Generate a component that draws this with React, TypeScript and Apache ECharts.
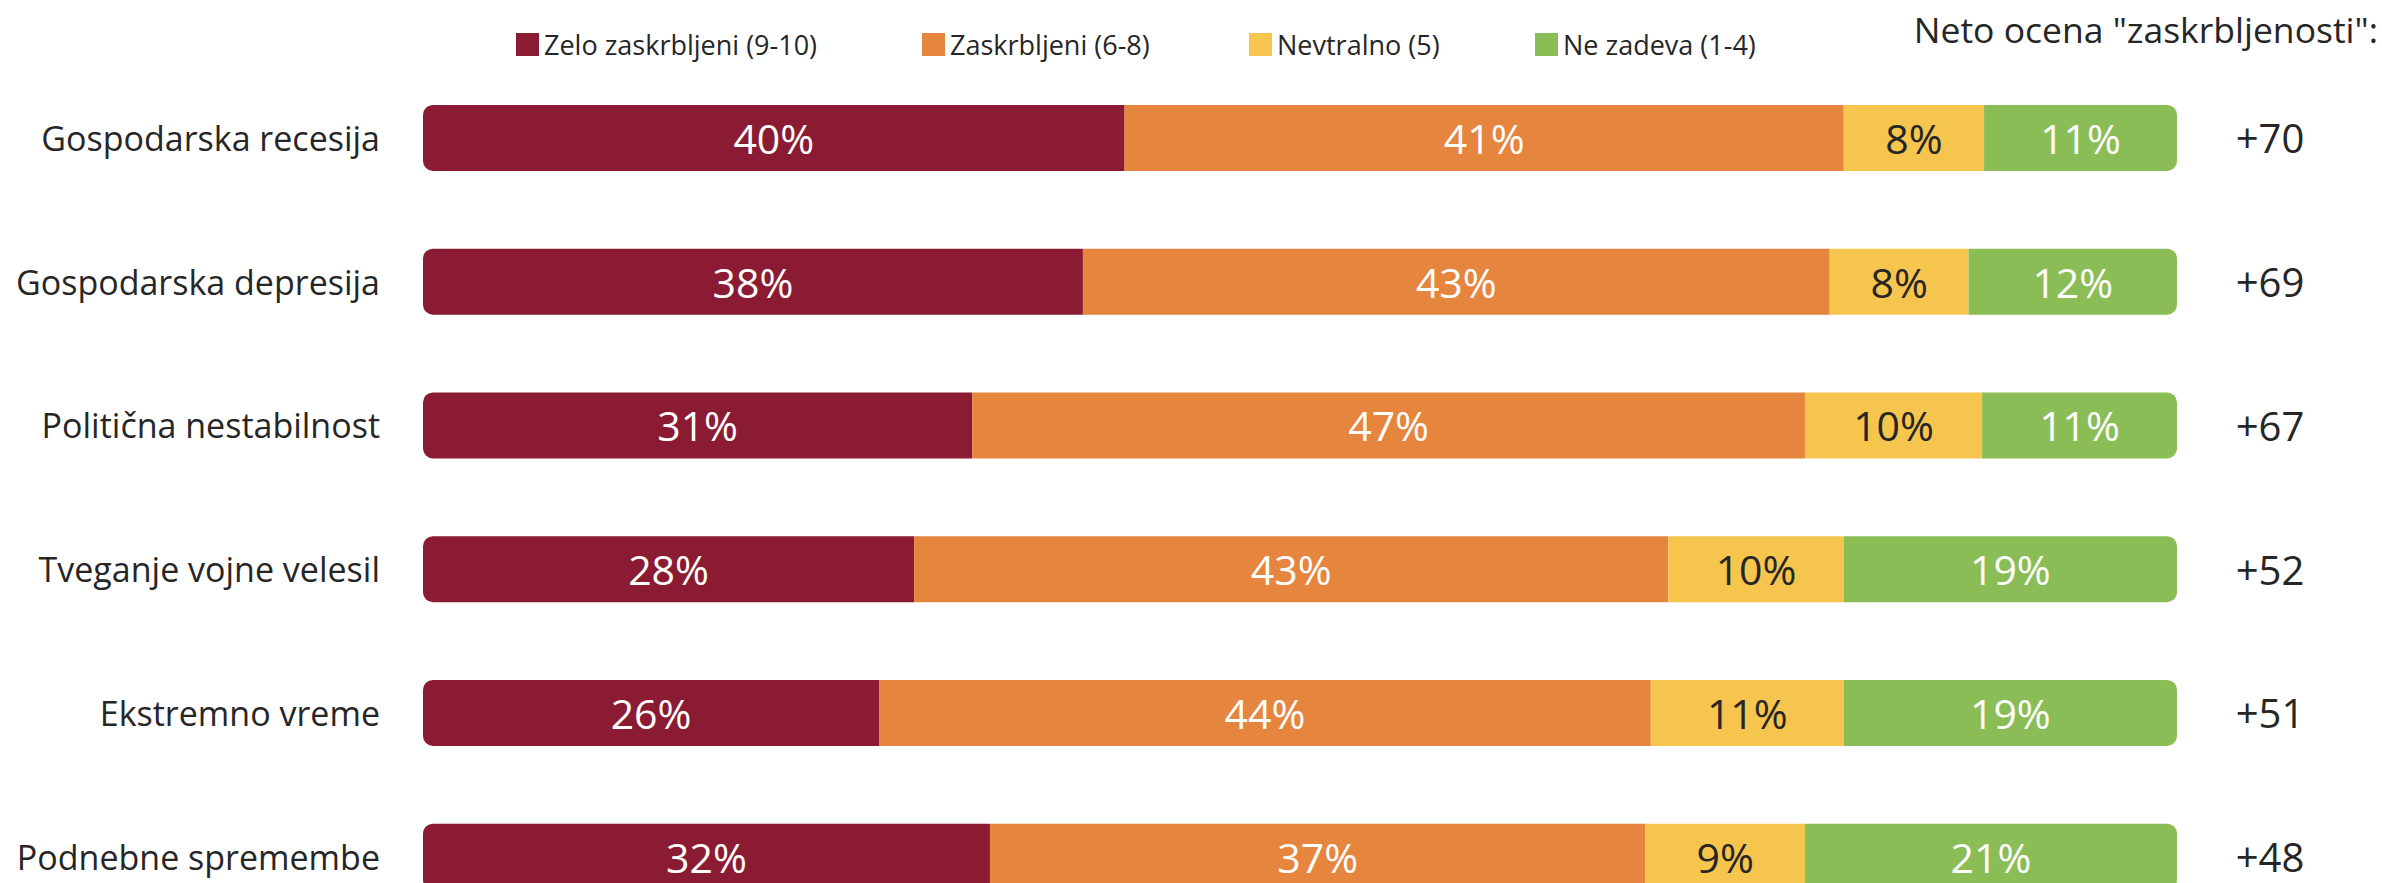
import React, { useEffect, useRef } from "react";
import * as echarts from "echarts";

const categories = [
  "Gospodarska recesija",
  "Gospodarska depresija",
  "Politična nestabilnost",
  "Tveganje vojne velesil",
  "Ekstremno vreme",
  "Podnebne spremembe",
];
const seriesNames = ["Zelo zaskrbljeni (9-10)", "Zaskrbljeni (6-8)", "Nevtralno (5)", "Ne zadeva (1-4)"];
const veryConcerned = [40, 38, 31, 28, 26, 32];
const concerned = [41, 43, 47, 43, 44, 37];
const neutral = [8, 8, 10, 10, 11, 9];
const notConcerned = [11, 12, 11, 19, 19, 21];
const netScores = [70, 69, 67, 52, 51, 48];
const netTitle = 'Neto ocena "zaskrbljenosti":';

const colors = ["#8B1B32", "#E6853D", "#F5C54E", "#8BBD56"];
const labelColors = ["#FFFFFF", "#FFFFFF", "#262626", "#FFFFFF"];
const FONT = "'Open Sans', sans-serif";
const TEXT = "#262626";

export default function App() {
  const ref = useRef<HTMLDivElement>(null);
  useEffect(() => {
    document.body.style.margin = "0";
    const chart = echarts.init(ref.current!, null, { renderer: "svg" });
    const raw = [veryConcerned, concerned, neutral, notConcerned];
    const totals = categories.map((_, i) => raw.reduce((s, arr) => s + arr[i], 0));
    const legendLefts = [516, 922, 1249, 1535];
    const radii = [
      [10, 0, 0, 10],
      [0, 0, 0, 0],
      [0, 0, 0, 0],
      [0, 10, 10, 0],
    ];
    const option: any = {
      animation: false,
      grid: { left: 423, top: 66, width: 1754, height: 862.5 },
      xAxis: { type: "value", min: 0, max: 100, show: false },
      yAxis: [
        {
          type: "category",
          data: categories,
          inverse: true,
          axisLine: { show: false },
          axisTick: { show: false },
          splitLine: { show: false },
          axisLabel: { fontSize: 34, lineHeight: 34, color: TEXT, margin: 43, fontFamily: FONT },
        },
        {
          type: "category",
          position: "right",
          data: netScores.map((v) => (v > 0 ? "+" + v : String(v))),
          inverse: true,
          axisLine: { show: false },
          axisTick: { show: false },
          splitLine: { show: false },
          axisLabel: {
            fontSize: 40,
            lineHeight: 36,
            color: TEXT,
            margin: 93,
            align: "center",
            fontFamily: FONT,
          },
        },
      ],
      legend: seriesNames.map((name, i) => ({
        data: [name],
        left: legendLefts[i],
        top: 31,
        padding: 0,
        itemWidth: 23,
        itemHeight: 23,
        icon: "rect",
        selectedMode: false,
        textStyle: { fontSize: 27, color: TEXT, fontFamily: FONT },
      })),
      graphic: [
        {
          type: "text",
          x: 2378,
          y: 29,
          style: {
            text: netTitle,
            fontSize: 35.5,
            fill: TEXT,
            fontFamily: FONT,
            align: "right",
            verticalAlign: "middle",
          },
        },
      ],
      series: seriesNames.map((name, si) => ({
        name,
        type: "bar",
        stack: "total",
        barWidth: 66,
        yAxisIndex: 0,
        itemStyle: { color: colors[si], borderRadius: radii[si] },
        label: {
          show: true,
          position: "inside",
          fontSize: 41,
          lineHeight: 36,
          color: labelColors[si],
          fontFamily: FONT,
          formatter: (p: any) => raw[si][p.dataIndex] + "%",
        },
        data: raw[si].map((v, i) => (v / totals[i]) * 100),
      })),
    };
    chart.setOption(option);
    return () => chart.dispose();
  }, []);
  return (
    <div style={{ width: 2382, height: 883, overflow: "hidden", position: "relative" }}>
      <div ref={ref} style={{ width: 2382, height: 930 }} />
    </div>
  );
}
